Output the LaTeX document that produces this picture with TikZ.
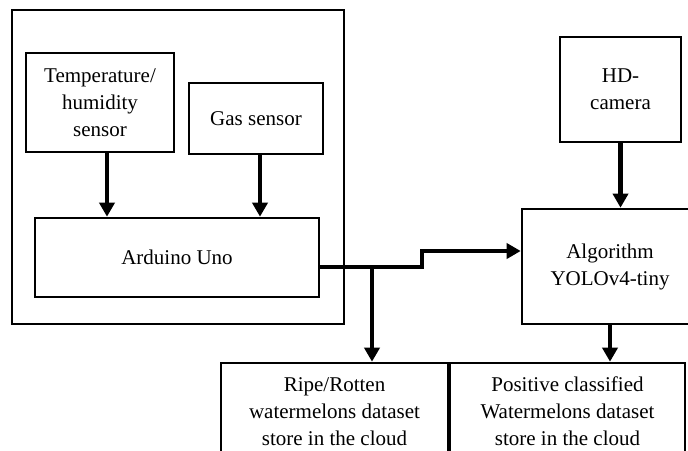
\documentclass[tikz,border=0pt]{standalone}
\usepackage{fontspec}
\setmainfont{Liberation Serif}
\usetikzlibrary{arrows.meta}

\begin{document}
\begin{tikzpicture}[x=0.5pt, y=-0.5pt, box/.style={draw, line width=1.3pt, align=center, inner sep=0pt},
					flow/.style={line width=2.3pt, ->}, >={Triangle[length=7pt,width=7.5pt]},   %pixel grid of the figure
					font=\fontsize{10.5}{13.5}\selectfont]
					\useasboundingbox (0,0) rectangle (688,450);
					\clip (0,0) rectangle (688,450);
					\draw[line width=1.2pt] (12,10) rectangle (344,324);
					\node[box, minimum width=74pt, minimum height=49.5pt] (temp) at (100,102.5) {Temperature/\\humidity\\sensor};
					\node[box, minimum width=67pt, minimum height=35.5pt] (gas) at (256,118.5) {Gas sensor};
					\node[box, minimum width=142pt, minimum height=39.5pt] (arduino) at (177,257.5) {Arduino Uno};
					\node[box, minimum width=60.5pt, minimum height=52.5pt] (hd) at (620.5,89.5) {HD-\\camera};
					\node[box, minimum width=88pt, minimum height=57.5pt] (algo) at (610,266.5) {Algorithm\\YOLOv4-tiny};
					\node[box, minimum width=113.5pt, minimum height=48.5pt] (ripe) at (334.5,411.5) {Ripe/Rotten\\watermelons dataset\\store in the cloud};
					\node[box, minimum width=117.5pt, minimum height=48.5pt] (pos) at (567.5,411.5) {Positive classified\\Watermelons dataset\\store in the cloud};
					\coordinate (split) at (372,267);
					\coordinate (jog) at (422,267);
					\draw[flow] ([xshift=3.5pt]temp.south) -- ([xshift=3.5pt]temp.south |- arduino.north);
					\draw[flow] ([xshift=2pt]gas.south) -- ([xshift=2pt]gas.south |- arduino.north);
					\draw[flow] (hd.south) -- (hd.south |- algo.north);
					\draw[flow] (algo.south) -- (algo.south |- pos.north);
					\draw[flow] ([yshift=-4.75pt]arduino.east) -- (jog) |- ([yshift=7.75pt]algo.west);
					\draw[flow] (split) -- (split |- ripe.north);
				\end{tikzpicture}
\end{document}
